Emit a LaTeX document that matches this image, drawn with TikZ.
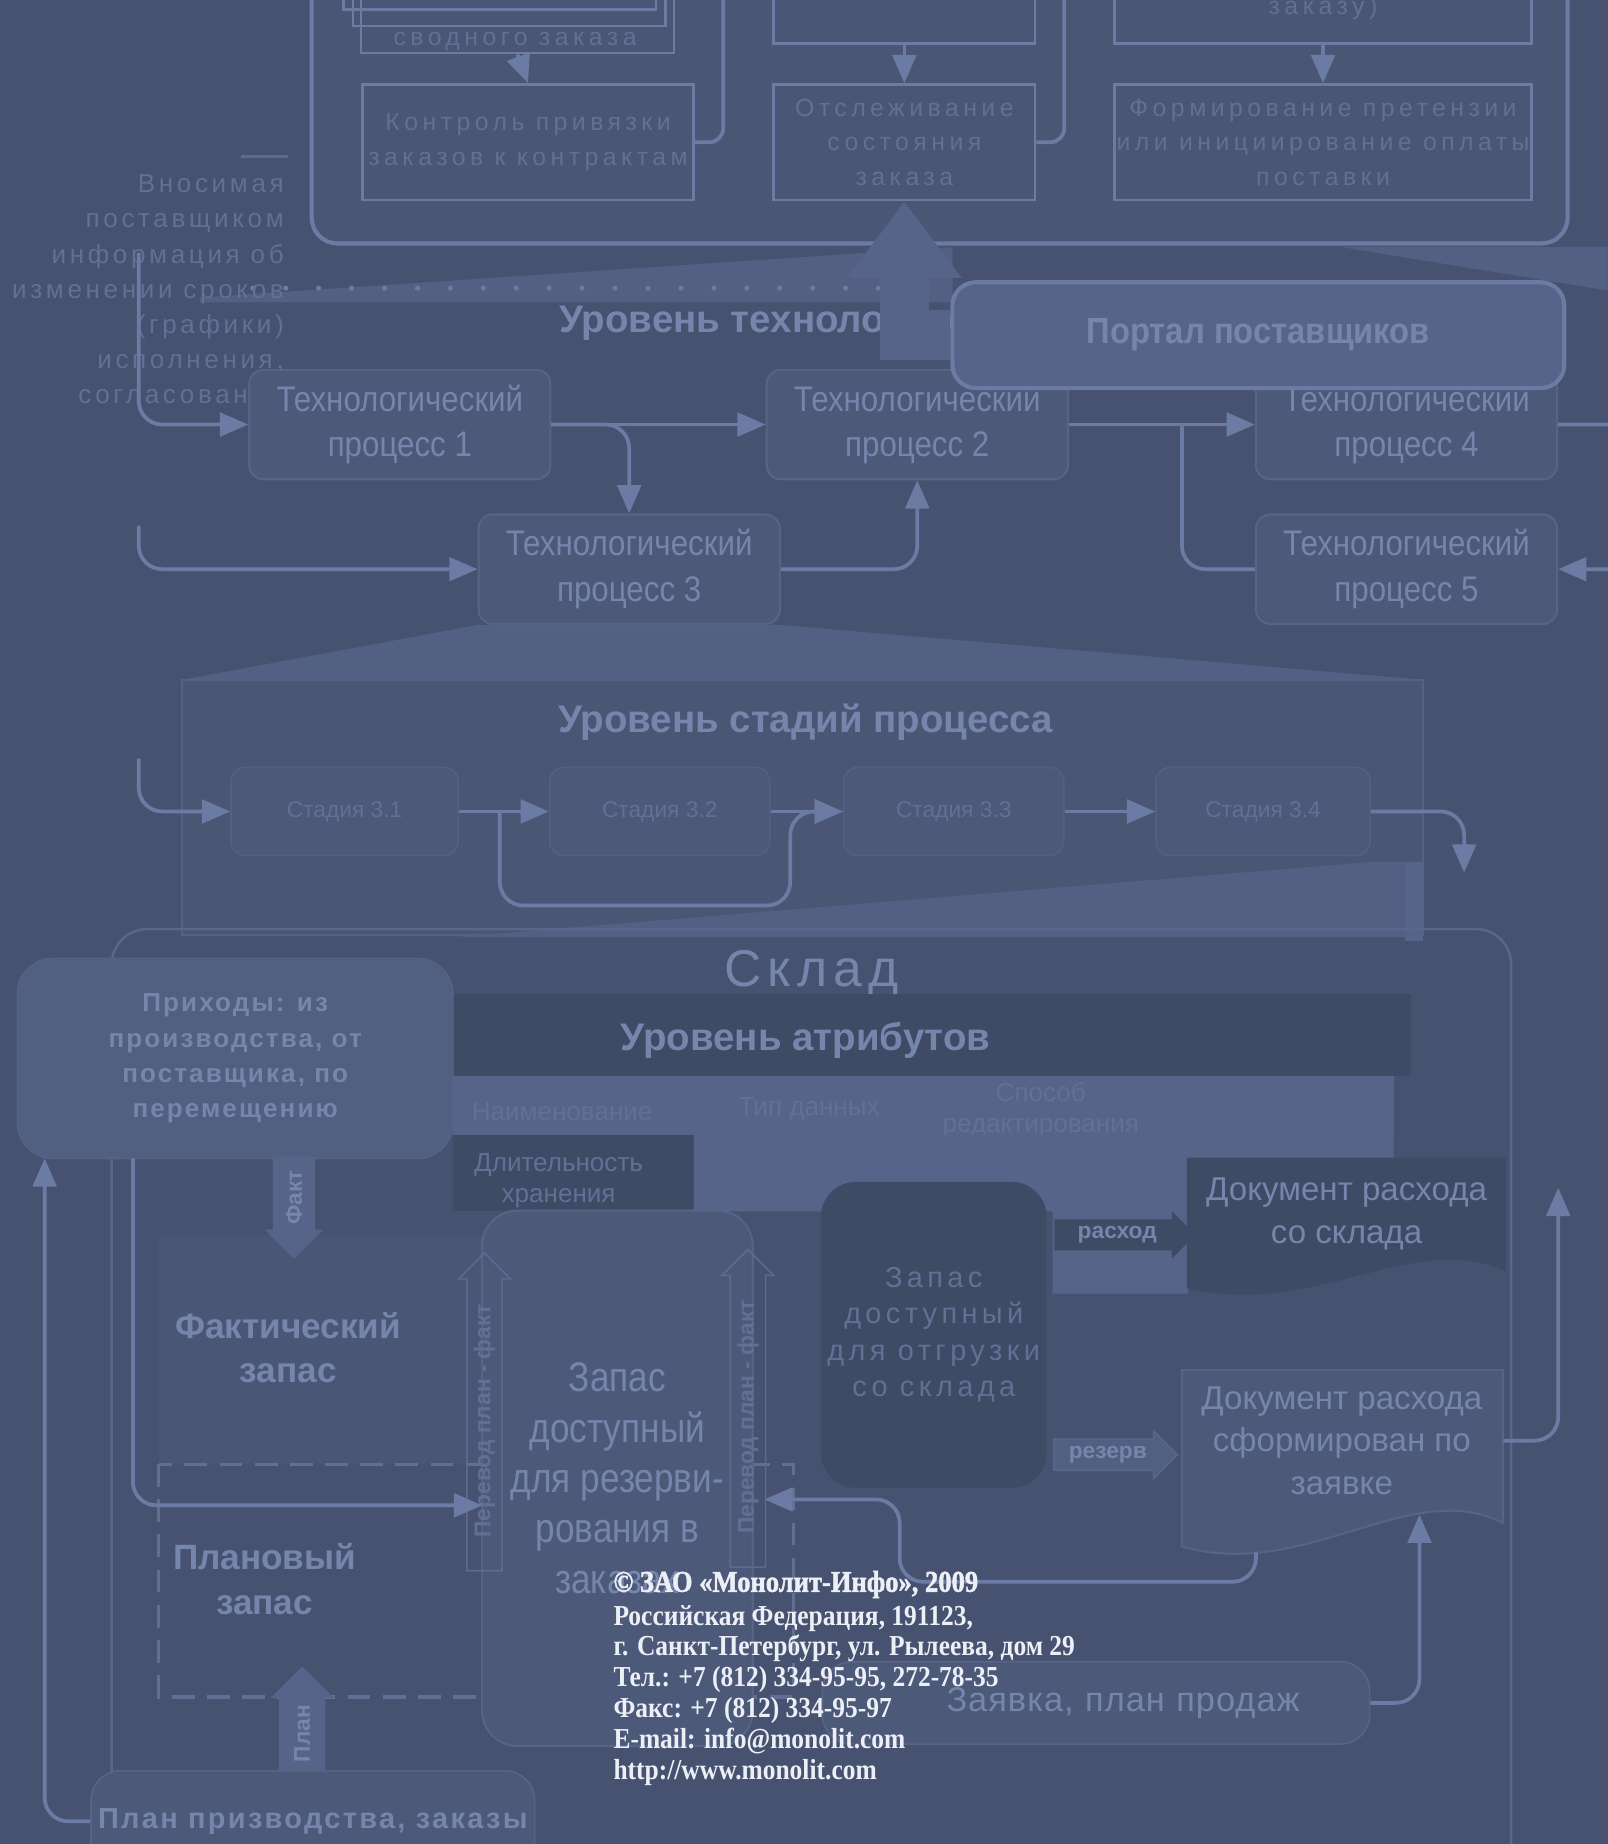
\documentclass[tikz,border=0pt]{standalone}
\usepackage{fontspec}
\setmainfont{Liberation Sans}
\newfontfamily\copyfont{Liberation Serif}
\usetikzlibrary{arrows.meta,shapes.arrows}

\definecolor{bgc}{RGB}{70,82,111}
\definecolor{panelc}{RGB}{74,86,116}
\definecolor{linec}{RGB}{108,123,163}
\definecolor{txtc}{RGB}{118,133,172}
\definecolor{fadec}{RGB}{98,112,150}
\definecolor{lightc}{RGB}{86,100,137}
\definecolor{midc}{RGB}{77,89,121}
\definecolor{darkc}{RGB}{63,74,101}
\definecolor{copyc}{RGB}{236,239,246}

\begin{document}
\begin{tikzpicture}[x=0.01cm, y=-0.01cm,
    every node/.style={inner sep=0pt, align=center, text=txtc},
    flow/.style={draw=linec, line width=0.9pt, -{Triangle[width=0.2cm, length=0.24cm]}},
    link/.style={draw=linec, line width=0.9pt},
    topbox/.style={draw=linec, line width=0.7pt, minimum height=0.98cm, text=fadec,
        font=\fontsize{6}{8.4}\selectfont\addfontfeature{LetterSpace=18}},
    tp/.style={draw=linec!45!bgc, line width=0.5pt, fill=midc, rounded corners=0.12cm,
        minimum width=2.56cm, minimum height=0.93cm,
        font=\fontsize{8.6}{11}\selectfont\addfontfeature{FakeStretch=0.88}},
    stage/.style={draw=linec!35!bgc, line width=0.4pt, fill=midc, rounded corners=0.12cm,
        minimum height=0.75cm, text=fadec, font=\fontsize{5.5}{7}\selectfont},
    leveltitle/.style={font=\fontsize{9.3}{11}\selectfont\bfseries},
    fat/.style={single arrow, single arrow head extend=0.07cm, inner sep=1.5pt,
        font=\fontsize{5.5}{6}\selectfont\bfseries},
    attr/.style={text=fadec, font=\fontsize{6.3}{7.6}\selectfont},
    stock/.style={font=\fontsize{8.5}{10.8}\selectfont\bfseries}
]
\useasboundingbox (0,0) rectangle (1367,1568);
\fill[bgc] (0,0) rectangle (1367,1568);

% верхняя панель (портал)
\draw[linec, line width=1pt, fill=panelc, rounded corners=0.22cm] (265,-40) rectangle (1333,207);
\draw[linec, line width=0.6pt] (292,-30) rectangle (558,8);
\draw[linec, line width=0.6pt] (300,-25) rectangle (566,22);
\node[topbox, minimum width=2.66cm, minimum height=0.6cm] (svod) at (440,15) {};
\node[text=fadec, font=\fontsize{6}{7}\selectfont\addfontfeature{LetterSpace=18}] (svodt) at (438,35) {сводного заказа};
\node[topbox, minimum width=2.81cm] (kontrol) at (449,121) {Контроль привязки\\заказов к контрактам};
\node[topbox, minimum width=2.22cm, minimum height=0.6cm] (pered) at (769,7) {};
\node[topbox, minimum width=2.22cm] (otsl) at (769,121) {Отслеживание\\состояния\\заказа};
\node[topbox, minimum width=3.55cm, minimum height=0.6cm] (pretop) at (1125,7) {заказу)};
\node[topbox, minimum width=3.55cm] (pretenz) at (1125,121) {Формирование претензии\\или инициирование оплаты\\поставки};
\draw[flow] (svod.south) -- (kontrol.north);
\draw[flow] (pered.south) -- (otsl.north);
\draw[flow] (pretop.south) -- (pretenz.north);
\coordinate (k1) at (615,-40);
\coordinate (k2) at (905,-40);
\draw[link, rounded corners=0.12cm] (kontrol.east) -| (k1);
\draw[link, rounded corners=0.12cm] (otsl.east) -| (k2);

% проекция
\fill[lightc!80!bgc] (170,253) -- (810,210) -- (810,257) -- (170,257) -- cycle;
\fill[lightc!80!bgc] (1140,210) -- (1367,210) -- (1367,247) -- cycle;
\foreach \x in {215,243,...,760} \fill[linec] (\x,245) circle (2.2);

% левый текст
\node[anchor=north east, align=right, text=fadec,
    font=\fontsize{6.3}{8.5}\selectfont\addfontfeature{LetterSpace=14}] (vnos) at (242,148)
    {Вносимая\\поставщиком\\информация об\\изменении сроков\\(графики)\\исполнения,\\согласования};
\draw[linec!60!bgc, line width=0.6pt] (205,133) -- (245,133);

% уровень технологических процессов
\node[leveltitle, anchor=west] (ttech) at (475,275) {Уровень технологических процессов};
\node[tp] (tp1) at (340,361) {Технологический\\процесс 1};
\node[tp] (tp2) at (780,361) {Технологический\\процесс 2};
\node[tp] (tp3) at (535,484) {Технологический\\процесс 3};
\node[tp] (tp4) at (1196,361) {Технологический\\процесс 4};
\node[tp] (tp5) at (1196,484) {Технологический\\процесс 5};
\node[draw=linec, line width=1pt, fill=lightc, rounded corners=0.2cm, minimum width=5.2cm,
    minimum height=0.9cm, font=\fontsize{8.8}{10}\selectfont\bfseries\addfontfeature{FakeStretch=0.9}] (portal) at (1070,285) {Портал поставщиков};
\draw[line width=0.42cm, lightc, -{Triangle[width=0.93cm, length=0.65cm]}] (portal.west) -| (otsl.south);

\coordinate (in1) at (118,215);
\coordinate (in3) at (118,447);
\coordinate (loop5) at (1005,361);
\coordinate (out4) at (1400,361);
\draw[flow, rounded corners=0.2cm] (in1) |- (tp1.west);
\draw[flow] (tp1.east) -- (tp2.west);
\draw[flow, rounded corners=0.2cm] (tp1.east) -| (tp3.north);
\draw[flow, rounded corners=0.2cm] (in3) |- (tp3.west);
\draw[flow, rounded corners=0.2cm] (tp3.east) -| (tp2.south);
\draw[flow] (tp2.east) -- (tp4.west);
\draw[link, rounded corners=0.2cm] (tp5.west) -| (loop5);
\draw[flow, rounded corners=0.25cm] (tp4.east) -- (out4) |- (tp5.east);

% уровень стадий
\fill[lightc!75!bgc] (tp3.south west) -- (155,578) -- (1210,578) -- (tp3.south east) -- cycle;
\draw[linec!40!bgc, fill=panelc, line width=0.5pt] (155,578) rectangle (1210,795);
\node[leveltitle] (tstad) at (685,614) {Уровень стадий процесса};
\node[stage, minimum width=1.93cm] (st1) at (293,690) {Стадия 3.1};
\node[stage, minimum width=1.87cm] (st2) at (561,690) {Стадия 3.2};
\node[stage, minimum width=1.87cm] (st3) at (811,690) {Стадия 3.3};
\node[stage, minimum width=1.82cm] (st4) at (1074,690) {Стадия 3.4};
\coordinate (in31) at (118,645);
\coordinate (lp31) at (425,690);
\coordinate (lp32) at (672,770);
\coordinate (out34) at (1245,742);
\draw[flow, rounded corners=0.2cm] (in31) |- (st1.west);
\draw[flow] (st1.east) -- (st2.west);
\draw[flow, rounded corners=0.2cm] (lp31) |- (lp32) |- (st3.west);
\draw[flow] (st2.east) -- (st3.west);
\draw[flow] (st3.east) -- (st4.west);
\draw[flow, rounded corners=0.2cm] (st4.east) -| (out34);
\fill[lightc!80!bgc] (385,797) -- (1165,733) -- (1198,733) -- (1206,797) -- cycle;
\fill[lightc] (1195,733) rectangle (1210,800);

% склад
\draw[linec!50!bgc, line width=0.6pt, rounded corners=0.3cm] (95,790) rectangle (1285,1620);
\node[font=\fontsize{12.5}{14}\selectfont\addfontfeature{LetterSpace=12}] (sklad) at (690,828) {Склад};
\fill[darkc] (385,845) rectangle (1200,915);
\node[leveltitle] (tattr) at (685,885) {Уровень атрибутов};
\fill[lightc] (385,915) rectangle (1185,965);
\node[attr] (naim) at (478,945) {Наименование};
\node[attr] (tipd) at (688,943) {Тип данных};
\node[attr] (sposob) at (885,944) {Способ\\редактирования};
\fill[darkc] (385,965) rectangle (590,1030);
\node[attr] (dlit) at (475,1004) {Длительность\\хранения};
\fill[lightc] (590,965) -- (1185,965) -- (1185,985) -- (1010,985) -- (1010,1100) -- (895,1100) -- (895,1030) -- (590,1030) -- cycle;

% приходы и запасы
\node[draw=linec!40!bgc, fill=lightc!70!bgc, rounded corners=0.3cm, minimum width=3.7cm, minimum height=1.7cm,
    font=\fontsize{6.3}{8.5}\selectfont\bfseries\addfontfeature{LetterSpace=8}] (prihod) at (200,900)
    {Приходы: из\\производства, от\\поставщика, по\\перемещению};
\fill[midc!60!bgc] (135,1050) rectangle (410,1245);
\node[fat, rotate=90, shape border rotate=180, minimum height=0.62cm, inner sep=3pt, fill=lightc] (fakt) at (250,1018) {Факт};
\node[stock] (fzapas) at (245,1146) {Фактический\\запас};
\draw[linec!70!bgc, line width=0.8pt, dash pattern=on 5.5pt off 3pt] (135,1245) rectangle (675,1443);
\node[stock] (pzapas) at (225,1343) {Плановый\\запас};
\node[fat, rotate=90, minimum height=0.62cm, inner sep=3.5pt, fill=lightc] (planarr) at (257,1474) {План};
\node[draw=linec!45!bgc, fill=midc, rounded corners=0.25cm, minimum width=3.77cm, minimum height=0.86cm, anchor=north,
    font=\fontsize{7}{8}\selectfont\bfseries\addfontfeature{LetterSpace=8}] (planpr) at (266,1505) {План призводства, заказы};

\node[draw=linec!45!bgc, line width=0.5pt, fill=midc, rounded corners=0.3cm, minimum width=2.3cm, minimum height=4.55cm,
    font=\fontsize{10}{12.2}\selectfont\addfontfeature{FakeStretch=0.85}] (zrez) at (525,1257)
    {Запас\\доступный\\для резерви-\\рования в\\заказах};
\node[fat, rotate=90, draw=linec!60!bgc, minimum height=2.7cm, text=fadec] (perev1) at (412,1208) {Перевод план - факт};
\node[fat, rotate=90, draw=linec!60!bgc, minimum height=2.7cm, text=fadec] (perev2) at (636,1205) {Перевод план - факт};

\node[fill=darkc, rounded corners=0.3cm, minimum width=1.92cm, minimum height=2.6cm, text=fadec,
    font=\fontsize{7}{8.8}\selectfont\addfontfeature{LetterSpace=15}] (zotg) at (794,1135)
    {Запас\\доступный\\для отгрузки\\со склада};
\node[fat, fill=darkc, minimum height=1.2cm] (rashod) at (950,1050) {расход};
\node[fat, fill=lightc!70!bgc, draw=linec!50!bgc, minimum height=1.05cm] (rezerv) at (942,1237) {резерв};

% документы
\draw[fill=darkc, draw=darkc] (1010,985) -- (1280,985) -- (1280,1080) .. controls (1200,1045) and (1120,1120) .. (1010,1095) -- cycle;
\node[minimum width=2.7cm, minimum height=0.94cm, font=\fontsize{8}{10.5}\selectfont] (doc1) at (1145,1032) {Документ расхода\\со склада};
\draw[fill=midc, draw=linec!45!bgc, line width=0.5pt] (1005,1165) -- (1278,1165) -- (1278,1295) .. controls (1200,1255) and (1110,1345) .. (1005,1315) -- cycle;
\node[minimum width=2.73cm, minimum height=1.3cm, font=\fontsize{8}{10.2}\selectfont] (doc2) at (1141,1225) {Документ расхода\\сформирован по\\заявке};
\node[draw=linec!45!bgc, fill=midc, rounded corners=0.25cm, minimum width=4.65cm, minimum height=0.7cm,
    text width=3.46cm, align=right,
    font=\fontsize{8.3}{10}\selectfont\addfontfeature{LetterSpace=3}] (zajav) at (932,1448) {Заявка, план продаж};

\coordinate (pin) at (38,985);
\coordinate (pout) at (113,985);
\coordinate (zin) at (410,1280);
\coordinate (d2in) at (1207,1288);
\coordinate (up1) at (1325,1010);
\coordinate (d2out) at (1068,1320);
\coordinate (lp7) at (765,1345);
\coordinate (zr2) at (650,1275);
\draw[flow, rounded corners=0.2cm] (planpr.west) -| (pin);
\draw[flow, rounded corners=0.2cm] (pout) |- (zin);
\draw[flow, rounded corners=0.2cm] (zajav.east) -| (d2in);
\draw[flow, rounded corners=0.2cm] (doc2.east) -| (up1);
\draw[flow, rounded corners=0.2cm] (d2out) |- (lp7) |- (zr2);

% копирайт
\node[anchor=north west, align=left, text=copyc,
    font=\copyfont\fontsize{7}{7.45}\selectfont\bfseries\addfontfeature{FakeStretch=0.88}] (copyright) at (521,1335)
    {{\fontsize{7.3}{7.45}\selectfont\addfontfeature{FakeBold=1.5}© ЗАО «Монолит-Инфо», 2009}\\[0.6pt]
     Российская Федерация, 191123,\\
     г. Санкт-Петербург, ул. Рылеева, дом 29\\
     Тел.: +7 (812) 334-95-95, 272-78-35\\
     Факс: +7 (812) 334-95-97\\
     E-mail: info@monolit.com\\
     http://www.monolit.com};
\end{tikzpicture}
\end{document}
